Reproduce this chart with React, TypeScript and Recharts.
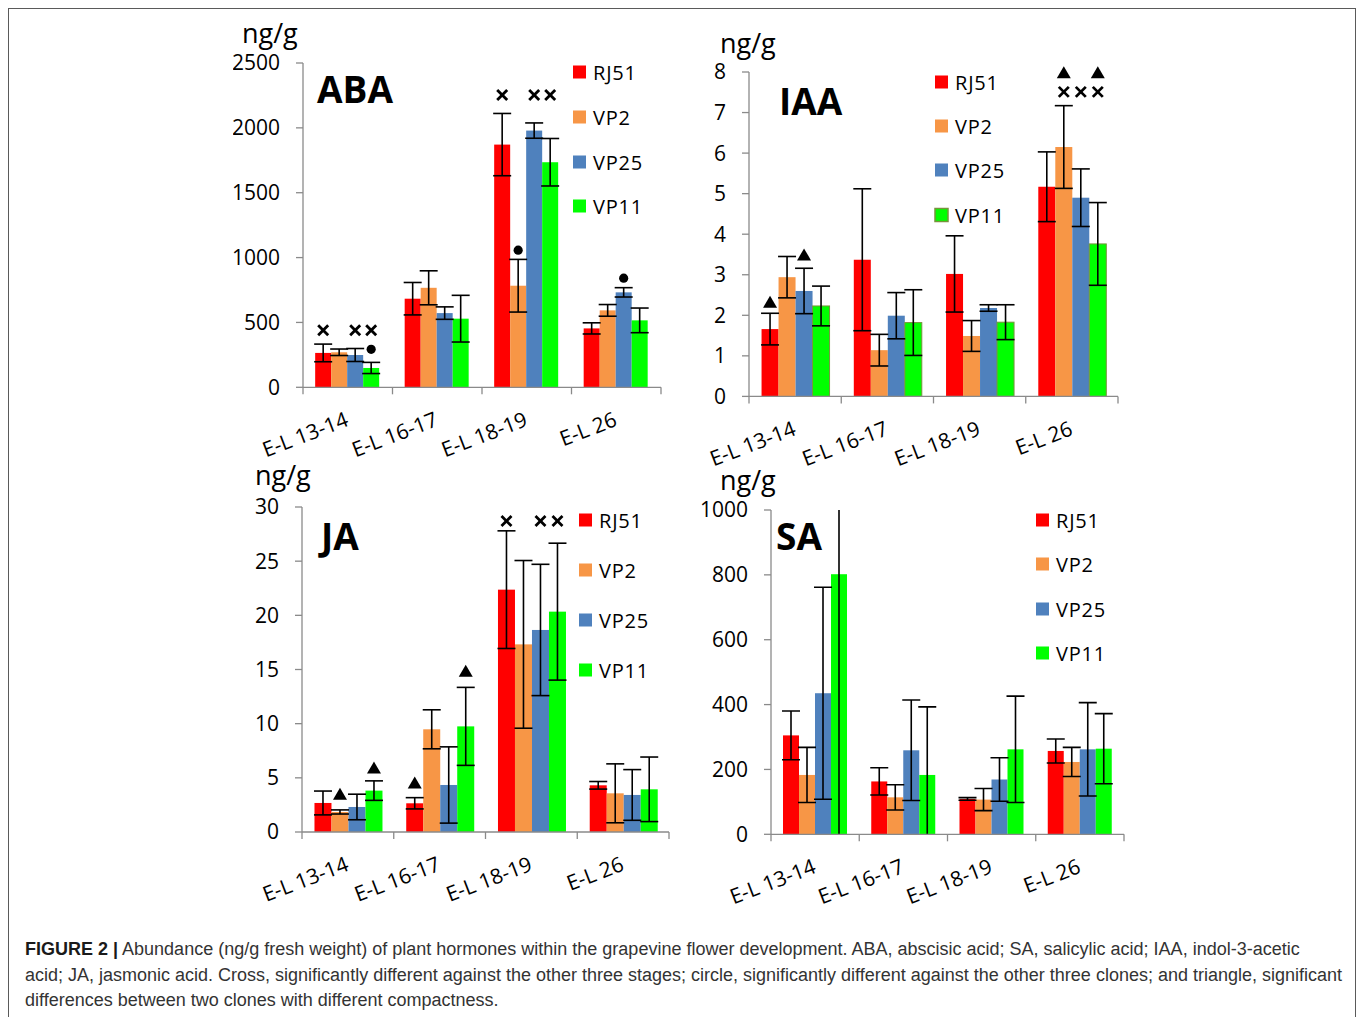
import { Bar, BarChart, ErrorBar, XAxis, YAxis } from "recharts"

const FONT = '"Open Sans", "DejaVu Sans", sans-serif'
const AXIS = "#8a8a8a"

const stages = ["E-L 13-14", "E-L 16-17", "E-L 18-19", "E-L 26"]
const clones = ["RJ51", "VP2", "VP25", "VP11"]
const cloneColors = ["#ff0000", "#f79646", "#4f81bd", "#00ff00"]

// ABA (ng/g)
const abaRJ51 = [265, 683, 1871, 454]
const abaRJ51Err = [68, 125, 240, 43]
const abaVP2 = [270, 767, 783, 593]
const abaVP2Err = [25, 131, 203, 45]
const abaVP25 = [249, 572, 1979, 732]
const abaVP25Err = [50, 48, 59, 36]
const abaVP11 = [149, 529, 1735, 516]
const abaVP11Err = [43, 180, 183, 95]
const abaTicks = [0, 500, 1000, 1500, 2000, 2500]

// IAA (ng/g)
const iaaRJ51 = [1.66, 3.37, 3.02, 5.17]
const iaaRJ51Err = [0.39, 1.75, 0.94, 0.86]
const iaaVP2 = [2.94, 1.14, 1.49, 6.15]
const iaaVP2Err = [0.51, 0.39, 0.38, 1.02]
const iaaVP25 = [2.6, 1.99, 2.18, 4.9]
const iaaVP25Err = [0.56, 0.57, 0.08, 0.71]
const iaaVP11 = [2.23, 1.82, 1.83, 3.76]
const iaaVP11Err = [0.49, 0.81, 0.43, 1.02]
const iaaTicks = [0, 1, 2, 3, 4, 5, 6, 7, 8]

// JA (ng/g)
const jaRJ51 = [2.68, 2.65, 22.37, 4.31]
const jaRJ51Err = [1.1, 0.52, 5.43, 0.35]
const jaVP2 = [1.85, 9.48, 17.32, 3.57]
const jaVP2Err = [0.19, 1.8, 7.74, 2.72]
const jaVP25 = [2.31, 4.34, 18.65, 3.42]
const jaVP25Err = [1.18, 3.52, 6.06, 2.34]
const jaVP11 = [3.82, 9.75, 20.34, 3.94]
const jaVP11Err = [0.9, 3.6, 6.32, 2.98]
const jaTicks = [0, 5, 10, 15, 20, 25, 30]

// SA (ng/g)
const saRJ51 = [305, 163, 109, 257]
const saRJ51Err = [75, 42, 4, 37]
const saVP2 = [183, 114, 107, 223]
const saVP2Err = [85, 39, 34, 45]
const saVP25 = [435, 259, 169, 262]
const saVP25Err = [327, 155, 67, 144]
const saVP11 = [802, 183, 262, 264]
const saVP11Err = [830, 210, 164, 108]
const saTicks = [0, 200, 400, 600, 800, 1000]

type Mark = { stage: string; clone: string; kind: "cross" | "dot" | "triangle"; at: number }

// significance symbols, "at" = height in data units
const abaMarks: Mark[] = [
  { stage: "E-L 13-14", clone: "RJ51", kind: "cross", at: 440 },
  { stage: "E-L 13-14", clone: "VP25", kind: "cross", at: 440 },
  { stage: "E-L 13-14", clone: "VP11", kind: "cross", at: 440 },
  { stage: "E-L 13-14", clone: "VP11", kind: "dot", at: 293 },
  { stage: "E-L 18-19", clone: "RJ51", kind: "cross", at: 2253 },
  { stage: "E-L 18-19", clone: "VP25", kind: "cross", at: 2253 },
  { stage: "E-L 18-19", clone: "VP11", kind: "cross", at: 2253 },
  { stage: "E-L 18-19", clone: "VP2", kind: "dot", at: 1057 },
  { stage: "E-L 26", clone: "VP25", kind: "dot", at: 841 },
]
const iaaMarks: Mark[] = [
  { stage: "E-L 13-14", clone: "RJ51", kind: "triangle", at: 2.32 },
  { stage: "E-L 13-14", clone: "VP25", kind: "triangle", at: 3.49 },
  { stage: "E-L 26", clone: "VP2", kind: "triangle", at: 7.98 },
  { stage: "E-L 26", clone: "VP11", kind: "triangle", at: 7.98 },
  { stage: "E-L 26", clone: "VP2", kind: "cross", at: 7.51 },
  { stage: "E-L 26", clone: "VP25", kind: "cross", at: 7.51 },
  { stage: "E-L 26", clone: "VP11", kind: "cross", at: 7.51 },
]
const jaMarks: Mark[] = [
  { stage: "E-L 13-14", clone: "VP2", kind: "triangle", at: 3.48 },
  { stage: "E-L 13-14", clone: "VP11", kind: "triangle", at: 5.9 },
  { stage: "E-L 16-17", clone: "RJ51", kind: "triangle", at: 4.52 },
  { stage: "E-L 16-17", clone: "VP11", kind: "triangle", at: 14.84 },
  { stage: "E-L 18-19", clone: "RJ51", kind: "cross", at: 28.7 },
  { stage: "E-L 18-19", clone: "VP25", kind: "cross", at: 28.7 },
  { stage: "E-L 18-19", clone: "VP11", kind: "cross", at: 28.7 },
]

function buildRows(values: number[][], errors: number[][]) {
  return stages.map((stage, i) => {
    const row: Record<string, string | number> = { stage }
    clones.forEach((c, j) => {
      row[c] = values[j][i]
      row[`${c}Err`] = errors[j][i]
    })
    return row
  })
}

function Symbol({ kind, cx, cy }: { kind: Mark["kind"]; cx: number; cy: number }) {
  if (kind === "dot") return <circle cx={cx} cy={cy} r={4.6} fill="#000" />
  if (kind === "triangle")
    return <path d={`M${cx},${cy - 6.5} L${cx + 7},${cy + 5.5} L${cx - 7},${cy + 5.5} Z`} fill="#000" />
  return (
    <g stroke="#000" strokeWidth={2.8}>
      <line x1={cx - 5} y1={cy - 5} x2={cx + 5} y2={cy + 5} />
      <line x1={cx - 5} y1={cy + 5} x2={cx + 5} y2={cy - 5} />
    </g>
  )
}

const makeShape = (clone: string, marks: Mark[], edge?: string) => (props: any) => {
  const { x, y, width, height, fill, payload } = props
  const value = Number(payload[clone])
  const k = value ? height / value : 0
  const base = y + height
  const cx = x + width / 2
  const mine = marks.filter((m) => m.clone === clone && m.stage === payload.stage)
  return (
    <g>
      <rect x={x} y={y} width={width} height={height} fill={fill} stroke={edge ?? "none"} strokeWidth={edge ? 1 : 0} />
      {mine.map((m, i) => (
        <Symbol key={i} kind={m.kind} cx={cx} cy={base - m.at * k} />
      ))}
    </g>
  )
}

function StageTick(props: any) {
  const { x, y, payload, index, bw } = props
  const ty = y + 38
  return (
    <g>
      <line x1={x - bw / 2} y1={y} x2={x - bw / 2} y2={y + 7} stroke={AXIS} strokeWidth={1.3} />
      {index === stages.length - 1 && (
        <line x1={x + bw / 2} y1={y} x2={x + bw / 2} y2={y + 7} stroke={AXIS} strokeWidth={1.3} />
      )}
      <text
        x={x + 2}
        y={ty}
        transform={`rotate(-21 ${x + 2} ${ty})`}
        textAnchor="end"
        fontSize={21}
        fontFamily={FONT}
        fill="#000"
      >
        {payload.value}
      </text>
    </g>
  )
}

interface PanelProps {
  title: string
  plot: { left: number; top: number; width: number; height: number }
  ticks: number[]
  rows: Record<string, string | number>[]
  marks: Mark[]
  titleAt: [number, number]
  unitAt: [number, number]
  legendAt: { x: number; rows: number[] }
  clip?: boolean
  greenEdge?: string
}

const YW = 70
const TOP = 30
const XH = 90

function Panel({ title, plot, ticks, rows, marks, titleAt, unitAt, legendAt, clip, greenEdge }: PanelProps) {
  const boxLeft = plot.left - YW
  const boxTop = plot.top - TOP
  const width = YW + plot.width + 20
  const height = TOP + plot.height + XH
  const clipId = `plotclip-${title}`
  return (
    <>
      {clip && (
        <style>{`.panel-${title} .recharts-bar, .panel-${title} [class*="errorBar"] { clip-path: url(#${clipId}); }`}</style>
      )}
      <div className={`panel-${title}`} style={{ position: "absolute", left: boxLeft, top: boxTop }}>
        <BarChart
          width={width}
          height={height}
          data={rows}
          margin={{ top: TOP, right: 20, bottom: 0, left: 0 }}
          barCategoryGap="13.6%"
          barGap={0}
          style={{ overflow: "visible" }}
        >
          <XAxis
            dataKey="stage"
            height={XH}
            interval={0}
            axisLine={{ stroke: AXIS, strokeWidth: 1.3 }}
            tickLine={false}
            tickSize={0}
            tickMargin={0}
            tick={(p: any) => <StageTick {...p} bw={plot.width / stages.length} />}
          />
          <YAxis
            width={YW}
            domain={[0, ticks[ticks.length - 1]]}
            ticks={ticks}
            interval={0}
            allowDataOverflow={!!clip}
            axisLine={{ stroke: AXIS, strokeWidth: 1.3 }}
            tickLine={{ stroke: AXIS, strokeWidth: 1.3 }}
            tickSize={7}
            tickMargin={16}
            tick={{ fontSize: 21, fill: "#000", fontFamily: FONT }}
          />
          {clones.map((c, j) => (
            <Bar
              key={c}
              dataKey={c}
              fill={cloneColors[j]}
              isAnimationActive={false}
              shape={makeShape(c, marks, j === 3 ? greenEdge : undefined)}
            >
              <ErrorBar dataKey={`${c}Err`} width={9} stroke="#000" strokeWidth={1.6} />
            </Bar>
          ))}
        </BarChart>
      </div>
      <svg
        width={1358}
        height={1017}
        style={{ position: "absolute", left: 0, top: 0, pointerEvents: "none", overflow: "visible" }}
      >
        <defs>
          <clipPath id={clipId} clipPathUnits="userSpaceOnUse">
            <rect x={YW} y={TOP} width={plot.width} height={plot.height} />
          </clipPath>
        </defs>
        <text x={unitAt[0]} y={unitAt[1]} fontSize={27} fontFamily={FONT} fill="#000">
          ng/g
        </text>
        <text x={titleAt[0]} y={titleAt[1]} fontSize={37} fontWeight={700} fontFamily={FONT} fill="#000">
          {title}
        </text>
        {clones.map((c, j) => (
          <g key={c}>
            <rect
              x={legendAt.x - 20}
              y={legendAt.rows[j] - 6.5}
              width={13}
              height={13}
              fill={cloneColors[j]}
              stroke={j === 3 && greenEdge ? greenEdge : "none"}
              strokeWidth={j === 3 && greenEdge ? 1.5 : 0}
            />
            <text
              x={legendAt.x}
              y={legendAt.rows[j]}
              dominantBaseline="central"
              fontSize={20}
              letterSpacing={0.8}
              fontFamily={FONT}
              fill="#000"
            >
              {c}
            </text>
          </g>
        ))}
      </svg>
    </>
  )
}

const abaRows = buildRows([abaRJ51, abaVP2, abaVP25, abaVP11], [abaRJ51Err, abaVP2Err, abaVP25Err, abaVP11Err])
const iaaRows = buildRows([iaaRJ51, iaaVP2, iaaVP25, iaaVP11], [iaaRJ51Err, iaaVP2Err, iaaVP25Err, iaaVP11Err])
const jaRows = buildRows([jaRJ51, jaVP2, jaVP25, jaVP11], [jaRJ51Err, jaVP2Err, jaVP25Err, jaVP11Err])
const saRows = buildRows([saRJ51, saVP2, saVP25, saVP11], [saRJ51Err, saVP2Err, saVP25Err, saVP11Err])

export default function App() {
  return (
    <div style={{ position: "absolute", left: 0, top: 0, width: 1358, height: 1017, background: "#fff", overflow: "hidden" }}>
      <div
        style={{
          position: "absolute",
          left: 8,
          top: 8,
          width: 1346,
          height: 1020,
          border: "1.5px solid #5a5a5a",
        }}
      />
      <Panel
        title="ABA"
        plot={{ left: 303, top: 62.7, width: 358, height: 324.3 }}
        ticks={abaTicks}
        rows={abaRows}
        marks={abaMarks}
        titleAt={[317, 103]}
        unitAt={[242, 43]}
        legendAt={{ x: 593, rows: [72, 117, 162, 206] }}
      />
      <Panel
        title="IAA"
        plot={{ left: 749, top: 72.3, width: 369, height: 324.4 }}
        ticks={iaaTicks}
        rows={iaaRows}
        marks={iaaMarks}
        titleAt={[779, 115]}
        unitAt={[720, 53]}
        legendAt={{ x: 955, rows: [82, 126, 170, 215] }}
        greenEdge="#77933c"
      />
      <Panel
        title="JA"
        plot={{ left: 302, top: 506.7, width: 367, height: 325 }}
        ticks={jaTicks}
        rows={jaRows}
        marks={jaMarks}
        titleAt={[321, 550]}
        unitAt={[255, 485]}
        legendAt={{ x: 599, rows: [520, 570, 620, 670] }}
      />
      <Panel
        title="SA"
        plot={{ left: 771, top: 510, width: 353, height: 324.3 }}
        ticks={saTicks}
        rows={saRows}
        marks={[]}
        titleAt={[776, 550]}
        unitAt={[720, 490]}
        legendAt={{ x: 1056, rows: [520, 564, 609, 653] }}
        clip
      />
      <div
        style={{
          position: "absolute",
          left: 25,
          top: 937,
          fontFamily: '"Liberation Sans", Arial, sans-serif',
          fontSize: 18,
          lineHeight: "25.5px",
          color: "#333",
          whiteSpace: "nowrap",
        }}
      >
        <div>
          <b style={{ color: "#1a1a1a" }}>FIGURE 2 |</b> Abundance (ng/g fresh weight) of plant hormones within the
          grapevine flower development. ABA, abscisic acid; SA, salicylic acid; IAA, indol-3-acetic
        </div>
        <div>
          acid; JA, jasmonic acid. Cross, significantly different against the other three stages; circle, significantly
          different against the other three clones; and triangle, significant
        </div>
        <div>differences between two clones with different compactness.</div>
      </div>
    </div>
  )
}
